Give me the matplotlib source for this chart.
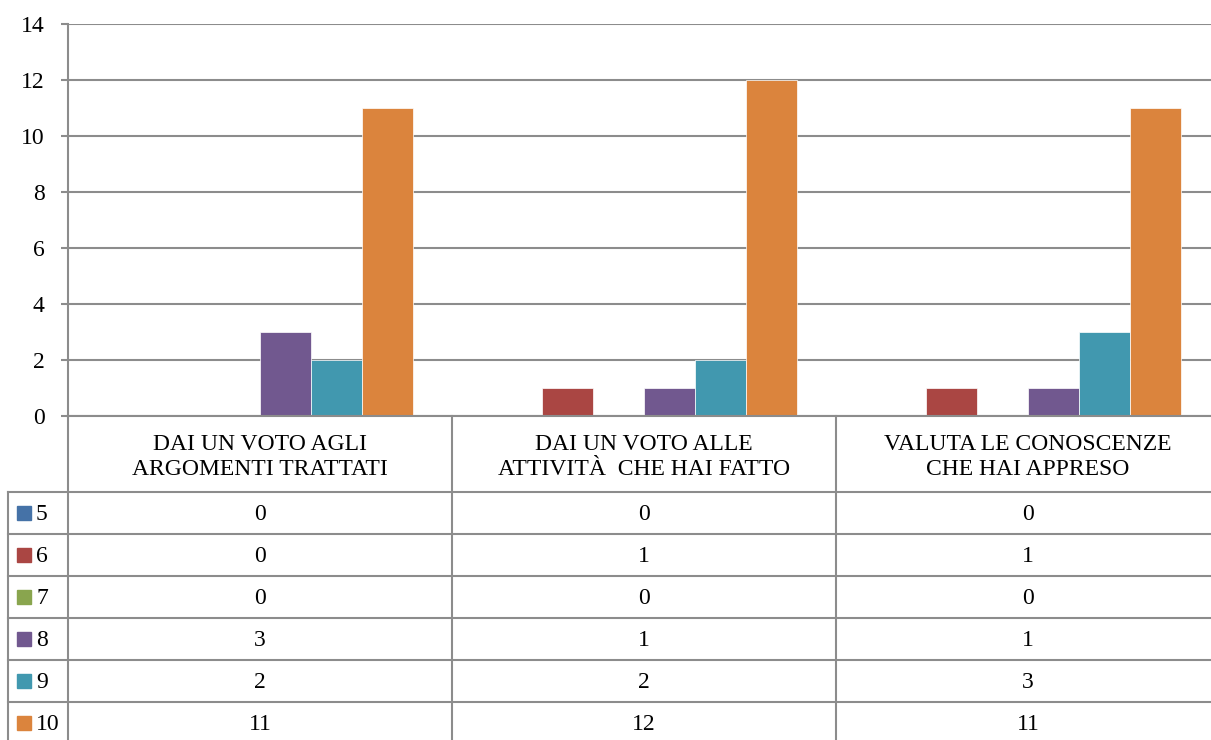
import matplotlib.pyplot as plt
import numpy as np

plt.rcParams['font.family'] = ['Liberation Serif', 'DejaVu Serif']

categories = ["DAI UN VOTO AGLI\nARGOMENTI TRATTATI",
              "DAI UN VOTO ALLE\nATTIVITÀ  CHE HAI FATTO",
              "VALUTA LE CONOSCENZE\nCHE HAI APPRESO"]
series_names = ["5", "6", "7", "8", "9", "10"]
values_5 = [0, 0, 0]
values_6 = [0, 1, 1]
values_7 = [0, 0, 0]
values_8 = [3, 1, 1]
values_9 = [2, 2, 3]
values_10 = [11, 12, 11]
yticks = [0, 2, 4, 6, 8, 10, 12, 14]

series = [values_5, values_6, values_7, values_8, values_9, values_10]
colors = ["#4572A7", "#AA4643", "#89A54E", "#71588F", "#4198AF", "#DB843D"]
grid_c = "#8c8c8c"

W, H = 1211, 740
fig = plt.figure(figsize=(W / 100, H / 100), dpi=100)

# chart area in pixel layout
x0, x_end = 68, 1220
y_top, y_zero = 24, 416
col_w = (x_end - x0) / len(categories)

ax = fig.add_axes([x0 / W, 1 - y_zero / H, (x_end - x0) / W, (y_zero - y_top) / H])
n = len(series)
bw = 306 / 384 / n
x = np.arange(len(categories))
for i, (vals, c) in enumerate(zip(series, colors)):
    ax.bar(x + 0.5 - 153 / 384 + bw * (i + 0.5), vals, width=bw, color=c,
           edgecolor="white", linewidth=0.5, zorder=3)
ax.set_xlim(0, len(categories))
ax.set_ylim(0, 14)
ax.set_yticks(yticks)
ax.set_xticks([])
ax.grid(axis="y", color=grid_c, linewidth=1.5, zorder=0)
for s in ["top", "right", "bottom"]:
    ax.spines[s].set_visible(False)
ax.spines["left"].set_color(grid_c)
ax.spines["left"].set_linewidth(1.5)
ax.tick_params(axis="y", length=5, width=1.5, color=grid_c, pad=12, labelsize=17)

# data table below the chart
tab = fig.add_axes([0, 0, 1, 1], facecolor="none")
tab.set_xlim(0, W)
tab.set_ylim(H, 0)
tab.axis("off")
lw = 1.5
row_h = 42
hdr_bottom = 492
legend_left = 8
n_rows = len(series_names)
bottom = hdr_bottom + row_h * n_rows

tab.plot([x0, x0], [y_zero, bottom], color=grid_c, lw=lw)
tab.plot([x0, x_end], [y_zero, y_zero], color=grid_c, lw=lw)
for k in range(1, len(categories) + 1):
    xx = x0 + col_w * k
    tab.plot([xx, xx], [y_zero, bottom], color=grid_c, lw=lw)
tab.plot([legend_left, legend_left], [hdr_bottom, bottom], color=grid_c, lw=lw)
for r in range(n_rows + 1):
    yy = hdr_bottom + row_h * r
    tab.plot([legend_left, x_end], [yy, yy], color=grid_c, lw=lw)

for k, cat in enumerate(categories):
    tab.text(x0 + col_w * (k + 0.5), (y_zero + hdr_bottom) / 2 + 3, cat,
             ha="center", va="center", fontsize=17, linespacing=1.3)

for r, (name, vals, c) in enumerate(zip(series_names, series, colors)):
    yc = hdr_bottom + row_h * (r + 0.5)
    tab.add_patch(plt.Rectangle((17, yc - 7), 14, 14, color=c))
    tab.text(36, yc + 2, name, ha="left", va="center", fontsize=17)
    for k, v in enumerate(vals):
        tab.text(x0 + col_w * (k + 0.5), yc + 2, str(v), ha="center", va="center", fontsize=17)

fig.savefig("out.png", dpi=100)
